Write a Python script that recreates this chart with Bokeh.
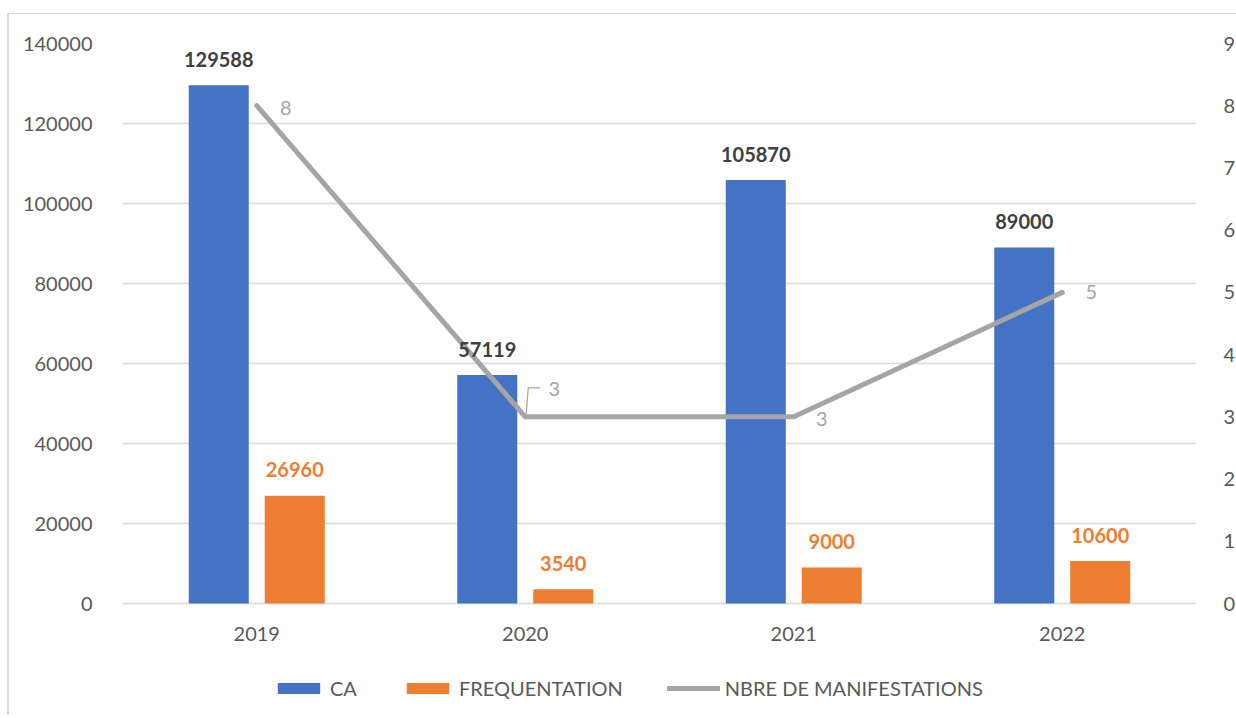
from bokeh.plotting import figure
from bokeh.models import (Range1d, LinearAxis, FixedTicker, BasicTickFormatter,
                          Legend, LegendItem, ColumnDataSource)
from bokeh.core.properties import value
from bokeh.embed import file_html
from bokeh.resources import INLINE

# ---- data ----
years = ["2019", "2020", "2021", "2022"]
ca = [129588, 57119, 105870, 89000]
frequentation = [26960, 3540, 9000, 10600]
manifestations = [8, 3, 3, 5]
left_ticks = [0, 20000, 40000, 60000, 80000, 100000, 120000, 140000]
right_ticks = [0, 1, 2, 3, 4, 5, 6, 7, 8, 9]

# ---- style ----
FONT = "Lato"
BLUE = "#4472C4"
ORANGE = "#ED7D31"
GREY = "#A5A5A5"
TXT = "#595959"
GRID = "#D9D9D9"

FRAME_W = 1074
PLOT_H = 560          # height of the value area (0 .. 140000)
EXTRA_H = 112         # room under the value area for year labels and legend
FRAME_H = PLOT_H + EXTRA_H
BAR_W = 0.2235
BAR_OFF = 0.1415

YMAX_L = left_ticks[-1]
YMAX_R = right_ticks[-1]
YMIN_L = -YMAX_L * EXTRA_H / PLOT_H
YMIN_R = -YMAX_R * EXTRA_H / PLOT_H

idx = list(range(len(years)))
x_ca = [i - BAR_OFF for i in idx]
x_fr = [i + BAR_OFF for i in idx]

src = ColumnDataSource(dict(
    x=idx, x_ca=x_ca, x_fr=x_fr, ca=ca, fr=frequentation, n=manifestations,
    zero=[0] * len(years), year=years,
    ca_lbl=[str(v) for v in ca], fr_lbl=[str(v) for v in frequentation],
    n_lbl=[str(v) for v in manifestations],
    n_xoff=[29, 29, 28, 29], n_yoff=[2, -28, 2, 0],
))

p = figure(frame_width=FRAME_W, frame_height=FRAME_H, output_backend="svg",
           toolbar_location=None,
           x_range=Range1d(-0.5, len(years) - 0.5), y_range=Range1d(YMIN_L, YMAX_L),
           min_border_left=113, min_border_right=38, min_border_top=29,
           min_border_bottom=0)
p.styles = {"border-left": "2px solid #d9d9d9", "border-top": "1px solid #d9d9d9",
            "margin-top": "13px", "margin-left": "7px"}
p.extra_y_ranges = {"right": Range1d(YMIN_R, YMAX_R)}
p.outline_line_color = None
p.background_fill_color = "white"
p.border_fill_color = "white"

# grid
p.xgrid.visible = False
p.ygrid.grid_line_color = GRID
p.ygrid.grid_line_width = 1.5
p.ygrid.ticker = FixedTicker(ticks=left_ticks)

# left axis
ya = p.yaxis[0]
ya.ticker = FixedTicker(ticks=left_ticks)
ya.formatter = BasicTickFormatter(use_scientific=False)
ya.axis_line_color = None
ya.major_tick_line_color = None
ya.minor_tick_line_color = None
ya.major_label_standoff = 24
ya.major_label_text_font = FONT
ya.major_label_text_font_size = "20px"
ya.major_label_text_color = TXT

# right axis
ra = LinearAxis(y_range_name="right", ticker=FixedTicker(ticks=right_ticks))
ra.axis_line_color = None
ra.major_tick_line_color = None
ra.minor_tick_line_color = None
ra.major_label_standoff = 21
ra.major_label_text_font = FONT
ra.major_label_text_font_size = "20px"
ra.major_label_text_color = TXT
p.add_layout(ra, "right")

# x axis: category labels drawn as text under the baseline
p.xaxis.visible = False
p.text(x="x", y="zero", text="year", source=src, text_align="center",
       text_baseline="middle", y_offset=30, text_font=value(FONT),
       text_font_size="20px", text_color=TXT)

# bars
r_ca = p.vbar(x="x_ca", top="ca", width=BAR_W, source=src, color=BLUE, line_color=None)
r_fr = p.vbar(x="x_fr", top="fr", width=BAR_W, source=src, color=ORANGE, line_color=None)

# line
r_n = p.line(x="x", y="n", source=src, y_range_name="right", line_color=GREY,
             line_width=5, line_join="round", line_cap="round")

# leader line for the 2020 label (pixel offsets converted to data units)
px_x = len(years) / FRAME_W
px_y = YMAX_R / PLOT_H
lead_px = [(1, -3), (3, -29), (15, -29)]
i2020 = years.index("2020")
p.line(x=[idx[i2020] + dx * px_x for dx, dy in lead_px],
       y=[manifestations[i2020] - dy * px_y for dx, dy in lead_px],
       y_range_name="right", line_color=GREY, line_width=1.2)

# labels
p.text(x="x_ca", y="ca", text="ca_lbl", source=src, text_align="center",
       text_baseline="middle", y_offset=-26, text_font=value(FONT),
       text_font_size="20px", text_font_style="bold", text_color="#404040")
p.text(x="x_fr", y="fr", text="fr_lbl", source=src, text_align="center",
       text_baseline="middle", y_offset=-26, text_font=value(FONT),
       text_font_size="20px", text_font_style="bold", text_color=ORANGE)
p.text(x="x", y="n", text="n_lbl", source=src, y_range_name="right",
       text_align="center", text_baseline="middle", x_offset="n_xoff",
       y_offset="n_yoff", text_font=value(FONT), text_font_size="20px",
       text_color=GREY)

# legend (inside the frame's lower strip)
legend = Legend(items=[LegendItem(label="CA", renderers=[r_ca]),
                       LegendItem(label="FREQUENTATION", renderers=[r_fr]),
                       LegendItem(label="NBRE DE MANIFESTATIONS", renderers=[r_n])],
                orientation="horizontal", location=(150, 15), spacing=44,
                label_standoff=5, glyph_width=53, glyph_height=14,
                label_text_font=FONT, label_text_font_size="20px",
                label_text_color=TXT, border_line_color=None,
                background_fill_alpha=0, margin=0, padding=0)
p.add_layout(legend, "center")

open("out.html", "w").write(file_html(p, INLINE))
